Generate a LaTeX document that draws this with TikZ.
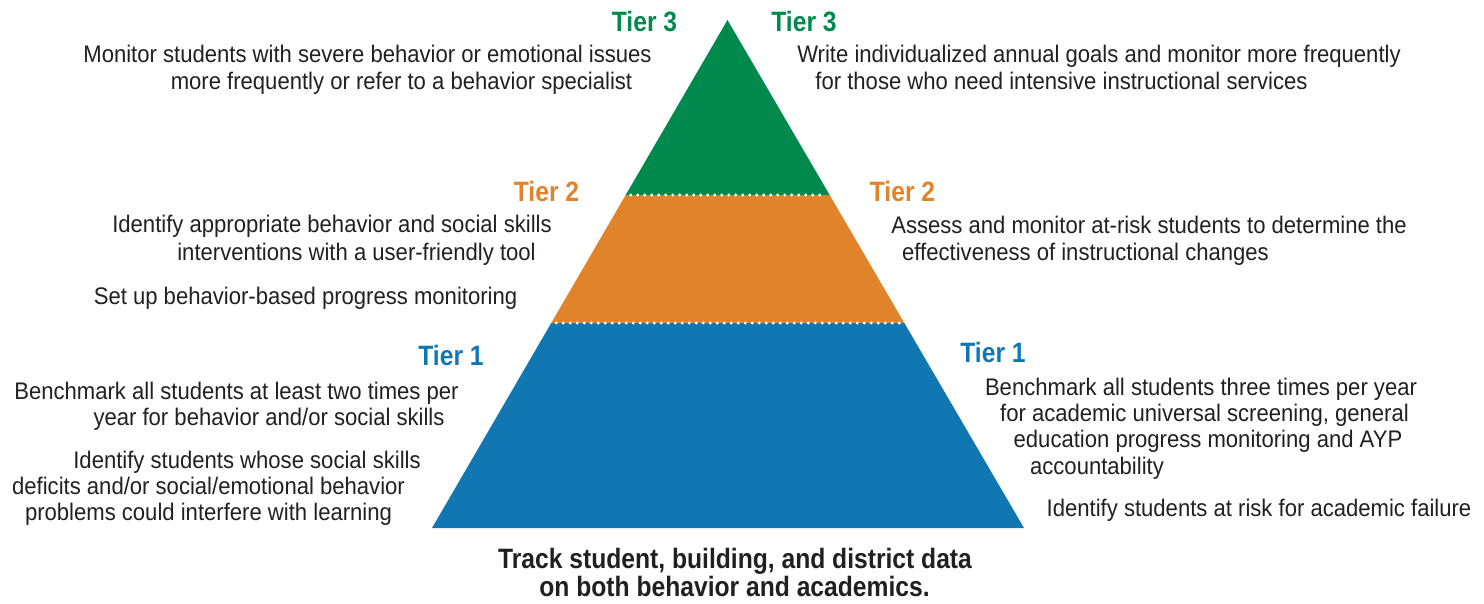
\documentclass[tikz,border=0pt]{standalone}
\usepackage{fontspec}
\usetikzlibrary{calc}
\newfontfamily\regfont[FakeStretch=0.92]{Liberation Sans}
\newfontfamily\boldfont[FakeStretch=0.88]{Liberation Sans Bold}
\definecolor{tgreen}{HTML}{00894C}
\definecolor{torange}{HTML}{E0832A}
\definecolor{tblue}{HTML}{1177B2}
\definecolor{ink}{HTML}{231F20}
\tikzset{
  txt/.style={anchor=base, inner sep=0pt, text=ink, font=\regfont\fontsize{24}{27}\selectfont},
  tierlab/.style={anchor=base, inner sep=0pt, font=\boldfont\fontsize{28}{30}\selectfont},
  foot/.style={anchor=base, inner sep=0pt, text=ink, font=\boldfont\fontsize{28}{30}\selectfont},
  sep/.style={white, line width=3.3pt, line cap=round, dash pattern=on 0pt off 7pt}
}
\begin{document}
\begin{tikzpicture}[x=1pt,y=-1pt]
\useasboundingbox (0,0) rectangle (1484,604);
% pyramid
\coordinate (A) at (727.5,20);
\coordinate (BL) at (432,528);
\coordinate (BR) at (1024,528);
\coordinate (L3) at ($(A)!0.3445!(BL)$);
\coordinate (R3) at ($(A)!0.3445!(BR)$);
\coordinate (L2) at ($(A)!0.5965!(BL)$);
\coordinate (R2) at ($(A)!0.5965!(BR)$);
\fill[tblue] (L2) -- (R2) -- (BR) -- (BL) -- cycle;
\fill[torange] (L3) -- (R3) -- (R2) -- (L2) -- cycle;
\fill[tgreen] (A) -- (R3) -- (L3) -- cycle;
\draw[sep] ($(L3)+(5,0)$) -- ($(R3)+(-5,0)$);
\draw[sep] ($(L2)+(5,0)$) -- ($(R2)+(-5,0)$);
% tier labels
\node[tierlab, text=tgreen] (t3l) at (644.5,32) {Tier 3};
\node[tierlab, text=tgreen] (t3r) at (804,32) {Tier 3};
\node[tierlab, text=torange] (t2l) at (546.5,202) {Tier 2};
\node[tierlab, text=torange] (t2r) at (902.5,202) {Tier 2};
\node[tierlab, text=tblue] (t1l) at (451,365) {Tier 1};
\node[tierlab, text=tblue] (t1r) at (993,362) {Tier 1};
% left texts
\node[txt] (a1) at (367.5,63) {Monitor students with severe behavior or emotional issues};
\node[txt] (a2) at (401.5,90) {more frequently or refer to a behavior specialist};
\node[txt] (a3) at (332,233) {Identify appropriate behavior and social skills};
\node[txt] (a4) at (356.5,261) {interventions with a user-friendly tool};
\node[txt] (a5) at (305.5,305) {Set up behavior-based progress monitoring};
\node[txt] (a6) at (236.5,399) {Benchmark all students at least two times per};
\node[txt] (a7) at (269,425) {year for behavior and/or social skills};
\node[txt] (a8) at (247,468) {Identify students whose social skills};
\node[txt] (a9) at (208.5,494) {deficits and/or social/emotional behavior};
\node[txt] (a10) at (208.5,520) {problems could interfere with learning};
% right texts
\node[txt] (b1) at (1099,63) {Write individualized annual goals and monitor more frequently};
\node[txt] (b2) at (1061.5,90) {for those who need intensive instructional services};
\node[txt] (b3) at (1149,234) {Assess and monitor at-risk students to determine the};
\node[txt] (b4) at (1085.5,261) {effectiveness of instructional changes};
\node[txt] (b5) at (1201,395) {Benchmark all students three times per year};
\node[txt] (b6) at (1204.5,421) {for academic universal screening, general};
\node[txt] (b7) at (1208,447) {education progress monitoring and AYP};
\node[txt] (b8) at (1097,474) {accountability};
\node[txt] (b9) at (1259,516) {Identify students at risk for academic failure};
% footer
\node[foot] (f1) at (735,568) {Track student, building, and district data};
\node[foot] (f2) at (734.5,596) {on both behavior and academics.};
\end{tikzpicture}
\end{document}
